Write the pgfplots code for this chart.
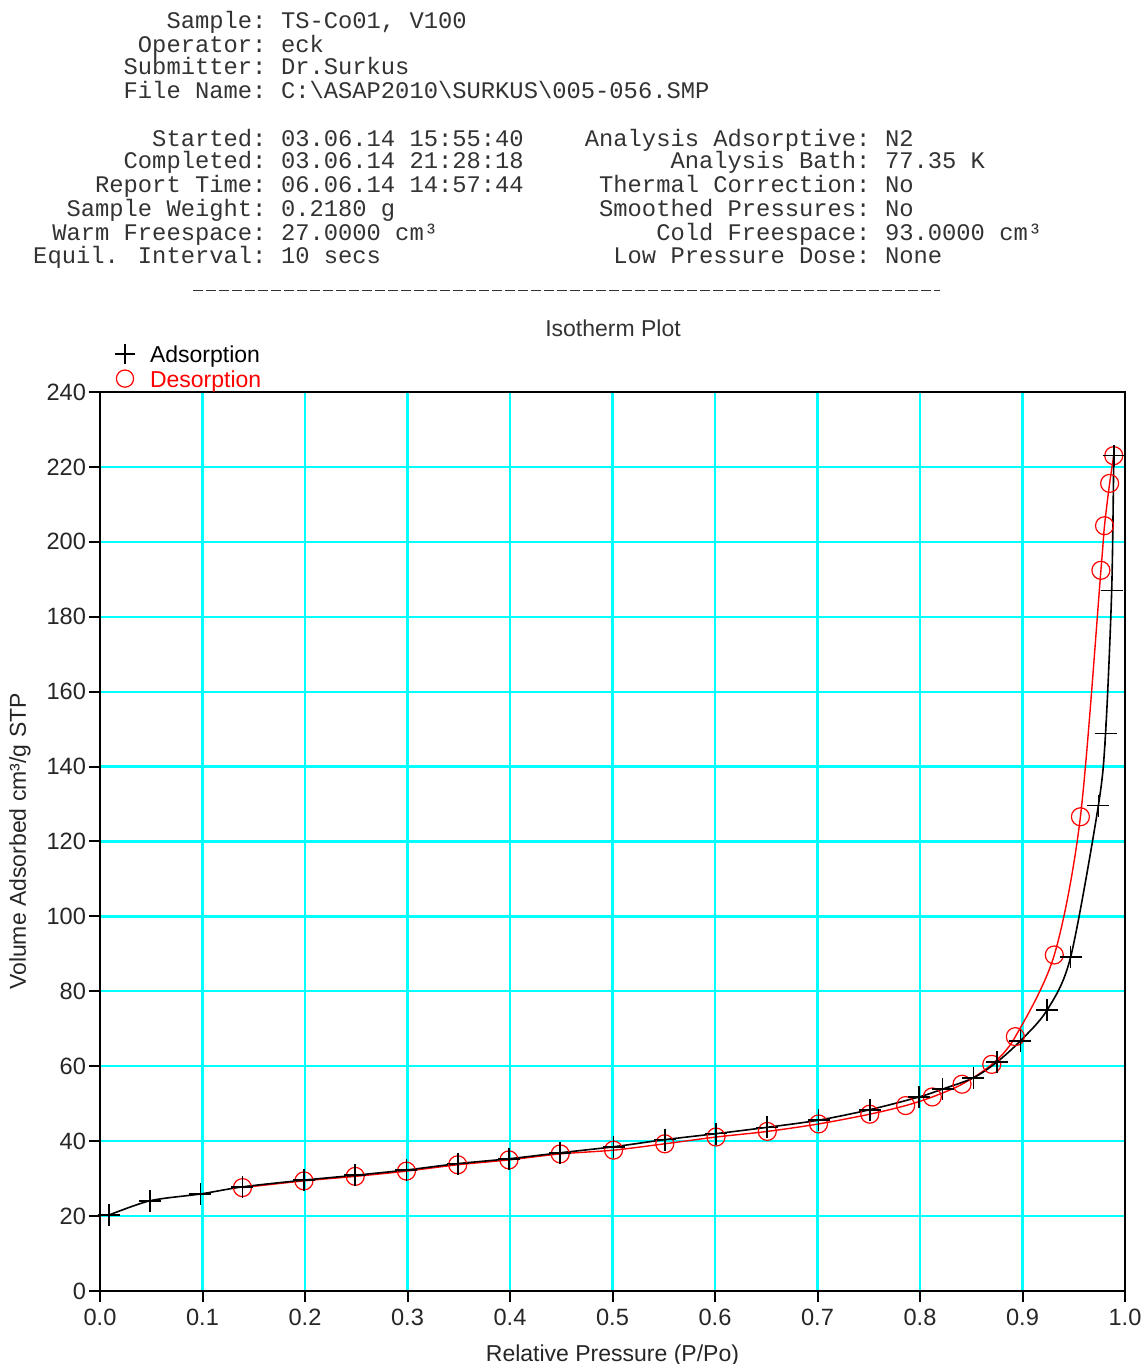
\documentclass[border=0pt]{standalone}
\usepackage{fontspec}
\setmainfont{Liberation Sans}
\newfontfamily\monof{Liberation Mono}
\usepackage{pgfplots}
\pgfplotsset{compat=1.18}
\definecolor{gridcyan}{RGB}{0,255,255}

\pgfplotstableread{
x y
0.009 20.3
0.049 24.1
0.098 25.9
0.139 27.8
0.199 29.6
0.249 30.9
0.299 32.3
0.349 34.0
0.399 35.3
0.449 36.9
0.501 38.5
0.551 40.4
0.601 42.0
0.651 43.7
0.701 45.6
0.751 48.4
0.799 51.8
0.822 53.9
0.852 56.9
0.875 61.1
0.898 66.8
0.924 75.0
0.947 89.2
0.974 129.6
0.981 148.8
0.987 187.0
0.989 223.0
}\adsdata

\pgfplotstableread{
x y
0.989 223.0
0.985 215.6
0.980 204.3
0.9765 192.4
0.9565 126.6
0.931 89.7
0.893 67.9
0.870 60.5
0.841 55.2
0.812 51.8
0.786 49.5
0.751 47.2
0.701 44.6
0.651 42.6
0.601 41.1
0.551 39.3
0.501 37.6
0.449 36.6
0.399 35.0
0.349 33.7
0.299 32.0
0.249 30.6
0.199 29.4
0.139 27.6
}\desdata

\begin{document}
\begin{tikzpicture}
\begin{axis}[
  at={(0,0)}, anchor=south west,
  scale only axis, width=512.5pt, height=449.5pt,
  xmin=0, xmax=1, ymin=0, ymax=240,
  xtick={0,0.1,0.2,0.3,0.4,0.5,0.6,0.7,0.8,0.9,1.0},
  ytick={0,20,...,240},
  xticklabel style={/pgf/number format/.cd, fixed, fixed zerofill, precision=1},
  yticklabel style={inner xsep=1.3pt},
  /pgf/number format/assume math mode=true,
  tick label style={font=\fontsize{11.8}{12}\selectfont, text=black!85},
  grid=major,
  major grid style={color=gridcyan, line width=1.1pt},
  axis line style={line width=1pt},
  tick align=outside, xtick pos=bottom, ytick pos=left,
  major tick length=5.5pt,
  every tick/.style={black, line width=1pt},
  xlabel={Relative Pressure (P/Po)},
  ylabel={Volume Adsorbed cm³/g STP},
  label style={font=\fontsize{11.5}{12}\selectfont, text=black!85},
  xlabel style={at={([yshift=-35pt]axis description cs:0.5,0)}, anchor=base},
  ylabel style={at={([xshift=-40pt]axis description cs:0,0.5)}, anchor=center},
  legend style={at={(axis description cs:0,1)}, anchor=south west, xshift=6.5pt, yshift=-0.75pt,
    draw=none, fill=none, inner sep=0pt, outer sep=0pt,
    font=\fontsize{11.5}{12}\selectfont,
    nodes={text height=8.5pt, text depth=2pt, inner sep=1pt},
    row sep=-1pt, column sep=5.5pt},
  legend cell align=left,
  legend image code/.code={\path[draw=none,fill=none] (-6pt,0pt) rectangle (6pt,7pt); \draw[#1] plot coordinates {(0pt,1.2pt)};},
]
\addplot[red, line width=0.7pt, smooth, mark=o, mark size=4.5pt, mark options={line width=0.6pt}, forget plot] table {\desdata};
\addplot[black, line width=0.8pt, smooth, mark=+, mark size=5.5pt, mark options={line width=0.8pt}, forget plot] table {\adsdata};
\addlegendimage{only marks, mark=+, black, mark size=5pt, mark options={line width=0.8pt}}
\addlegendentry{Adsorption}
\addlegendimage{only marks, mark=o, red, mark size=4.3pt, mark options={line width=0.6pt}}
\addlegendentry{\textcolor{red}{Desorption}}
\end{axis}
\begin{scope}[shift={(-50pt,645.5pt)},x=0.5pt,y=-0.5pt,
  every node/.style={inner sep=0pt, outer sep=0pt, text=black!80, font=\monof\fontsize{11.9}{12}\selectfont}]
\node[anchor=base east] at (266.5,29) {Sample:};
\node[anchor=base west] at (281,29) {TS-Co01, V100};
\node[anchor=base east] at (266.5,53) {Operator:};
\node[anchor=base west] at (281,53) {eck};
\node[anchor=base east] at (266.5,75) {Submitter:};
\node[anchor=base west] at (281,75) {Dr.Surkus};
\node[anchor=base east] at (266.5,99) {File Name:};
\node[anchor=base west] at (281,99) {C:\textbackslash ASAP2010\textbackslash SURKUS\textbackslash 005-056.SMP};
\node[anchor=base east] at (266.5,147) {Started:};
\node[anchor=base west] at (281,147) {03.06.14 15:55:40};
\node[anchor=base east] at (266.5,169) {Completed:};
\node[anchor=base west] at (281,169) {03.06.14 21:28:18};
\node[anchor=base east] at (266.5,193) {Report Time:};
\node[anchor=base west] at (281,193) {06.06.14 14:57:44};
\node[anchor=base east] at (266.5,217) {Sample Weight:};
\node[anchor=base west] at (281,217) {0.2180 g};
\node[anchor=base east] at (266.5,241) {Warm Freespace:};
\node[anchor=base west] at (281,241) {27.0000 cm³};
\node[anchor=base east] at (266.5,264) {Equil. Interval:};
\node[anchor=base west] at (281,264) {10 secs};
\node[anchor=base east] at (870.5,147) {Analysis Adsorptive:};
\node[anchor=base west] at (885,147) {N2};
\node[anchor=base east] at (870.5,169) {Analysis Bath:};
\node[anchor=base west] at (885,169) {77.35 K};
\node[anchor=base east] at (870.5,193) {Thermal Correction:};
\node[anchor=base west] at (885,193) {No};
\node[anchor=base east] at (870.5,217) {Smoothed Pressures:};
\node[anchor=base west] at (885,217) {No};
\node[anchor=base east] at (870.5,241) {Cold Freespace:};
\node[anchor=base west] at (885,241) {93.0000 cm³};
\node[anchor=base east] at (870.5,264) {Low Pressure Dose:};
\node[anchor=base west] at (885,264) {None};
\draw[black!80, line width=0.5pt, dash pattern=on 5 off 1.5] (193,291) -- (940,291);
\node[anchor=base, font=\fontsize{11.5}{12}\selectfont] at (613,337) {Isotherm Plot};
\pgfresetboundingbox
\useasboundingbox (0,0) rectangle (1145,1364);
\end{scope}
\end{tikzpicture}
\end{document}
